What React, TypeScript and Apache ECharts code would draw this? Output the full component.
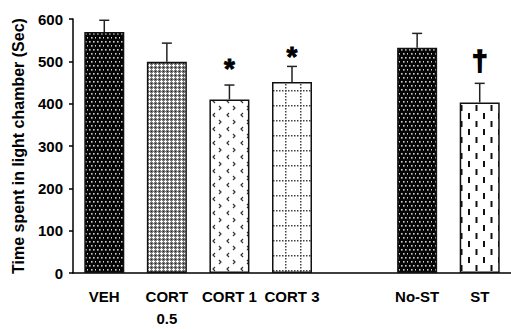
import React, { useEffect, useRef } from "react";
import * as echarts from "echarts";

const categories = ["VEH", "CORT\n0.5", "CORT 1", "CORT 3", "", "No-ST", "ST"];
const means: (number | null)[] = [569, 499, 410, 451, null, 532, 403];
const sems: (number | null)[] = [28, 44, 34, 37, null, 34, 45];
const marks = ["", "", "*", "*", "", "", "†"];
const markLevels: (number | null)[] = [null, null, 484, 512, null, null, 503];
const patternNames = ["dots", "diamond", "chevron", "grid", "", "dots", "dash"];
const yMin = 0;
const yMax = 600;
const yStep = 100;

function makePattern(w: number, h: number, draw: (ctx: CanvasRenderingContext2D) => void) {
  const c = document.createElement("canvas");
  c.width = w;
  c.height = h;
  const ctx = c.getContext("2d")!;
  draw(ctx);
  return { image: c, repeat: "repeat" } as any;
}

function buildPatterns(): Record<string, any> {
  return {
    dots: makePattern(8, 8, (ctx) => {
      ctx.fillStyle = "#050505";
      ctx.fillRect(0, 0, 8, 8);
      ctx.fillStyle = "#cfcfcf";
      [[1, 1], [5, 1], [3, 5], [7, 5]].forEach(([x, y]) => ctx.fillRect(x, y, 1.6, 1.6));
    }),
    diamond: makePattern(4, 4, (ctx) => {
      ctx.fillStyle = "#7a7a7a";
      ctx.fillRect(0, 0, 4, 4);
      ctx.fillStyle = "#ffffff";
      [[1, 0], [0, 1], [1, 1], [2, 1], [1, 2]].forEach(([x, y]) => ctx.fillRect(x, y, 1, 1));
      ctx.fillStyle = "#202020";
      ctx.fillRect(3, 3, 1, 1);
    }),
    chevron: makePattern(14, 14, (ctx) => {
      ctx.fillStyle = "#ffffff";
      ctx.fillRect(0, 0, 14, 14);
      ctx.strokeStyle = "#333";
      ctx.lineWidth = 1.2;
      ctx.beginPath();
      ctx.moveTo(5, 1);
      ctx.lineTo(3, 3);
      ctx.lineTo(5, 5);
      ctx.moveTo(9, 8);
      ctx.lineTo(11, 10);
      ctx.lineTo(9, 12);
      ctx.stroke();
    }),
    grid: makePattern(15, 15, (ctx) => {
      ctx.fillStyle = "#ffffff";
      ctx.fillRect(0, 0, 15, 15);
      ctx.fillStyle = "#444";
      for (let i = 0; i < 15; i += 3) {
        ctx.fillRect(i, 0, 1.5, 1.5);
        ctx.fillRect(0, i, 1.5, 1.5);
      }
    }),
    dash: makePattern(15, 16, (ctx) => {
      ctx.fillStyle = "#ffffff";
      ctx.fillRect(0, 0, 15, 16);
      ctx.fillStyle = "#111";
      ctx.fillRect(3, 1, 2, 6);
      ctx.fillRect(10.5, 9, 2, 6);
    }),
  };
}

export default function App() {
  const ref = useRef<HTMLDivElement>(null);
  useEffect(() => {
    if (!ref.current) return;
    const chart = echarts.init(ref.current, undefined, { renderer: "svg" });
    const pats = buildPatterns();
    const font = "'Liberation Sans', Arial, sans-serif";

    const barData = means.map((m, i) =>
      m == null
        ? "-"
        : {
            value: m,
            itemStyle: { color: pats[patternNames[i]], borderColor: "#111", borderWidth: 1.5 },
          }
    );
    const errData: number[][] = [];
    means.forEach((m, i) => {
      if (m != null && sems[i] != null) errData.push([i, m, sems[i] as number]);
    });
    const markData: number[][] = [];
    const markText: string[] = [];
    markLevels.forEach((v, i) => {
      if (v != null && marks[i]) {
        markData.push([i, v]);
        markText.push(marks[i]);
      }
    });

    chart.setOption({
      animation: false,
      grid: { left: 73, right: -11, top: 19, bottom: 55, containLabel: false },
      xAxis: {
        type: "category",
        data: categories,
        axisLine: { lineStyle: { color: "#000", width: 1.5 } },
        axisTick: { show: false },
        axisLabel: {
          interval: 0,
          color: "#000",
          fontFamily: font,
          fontWeight: "bold",
          fontSize: 15,
          lineHeight: 22,
          margin: 12,
        },
      },
      yAxis: {
        type: "value",
        min: yMin,
        max: yMax,
        interval: yStep,
        name: "Time spent in light chamber (Sec)",
        nameLocation: "middle",
        nameGap: 47,
        nameTextStyle: { color: "#000", fontFamily: font, fontWeight: "bold", fontSize: 16 },
        axisLine: { show: true, lineStyle: { color: "#000", width: 1.5 } },
        axisTick: { show: true, length: 4, lineStyle: { color: "#000", width: 1.5 } },
        splitLine: { show: false },
        axisLabel: { color: "#000", fontFamily: font, fontWeight: "bold", fontSize: 15, margin: 10 },
      },
      series: [
        {
          type: "bar",
          data: barData,
          barWidth: 40,
          z: 2,
        },
        {
          type: "custom",
          z: 3,
          data: errData,
          renderItem: (params: any, api: any) => {
            const x = api.value(0);
            const m = api.value(1);
            const s = api.value(2);
            const base = api.coord([x, m]);
            const top = api.coord([x, m + s]);
            const st = { stroke: "#222", lineWidth: 1.5 };
            return {
              type: "group",
              children: [
                { type: "line", shape: { x1: base[0], y1: base[1], x2: top[0], y2: top[1] }, style: st },
                { type: "line", shape: { x1: top[0] - 5, y1: top[1], x2: top[0] + 5, y2: top[1] }, style: st },
              ],
            };
          },
        },
        {
          type: "custom",
          z: 4,
          data: markData,
          renderItem: (params: any, api: any) => {
            const p = api.coord([api.value(0), api.value(1)]);
            const t = markText[params.dataIndex];
            const isStar = t === "*";
            return {
              type: "text",
              x: p[0],
              y: p[1],
              style: {
                text: t,
                fill: "#000",
                stroke: "#000",
                lineWidth: isStar ? 0.8 : 1.6,
                font: `bold ${isStar ? 28 : 28}px ${font}`,
                align: "center",
                verticalAlign: "middle",
              },
            };
          },
        },
      ],
    });
    return () => chart.dispose();
  }, []);
  return (
    <div
      ref={ref}
      style={{ position: "absolute", left: 0, top: 0, width: 511, height: 329, background: "#fff" }}
    />
  );
}
